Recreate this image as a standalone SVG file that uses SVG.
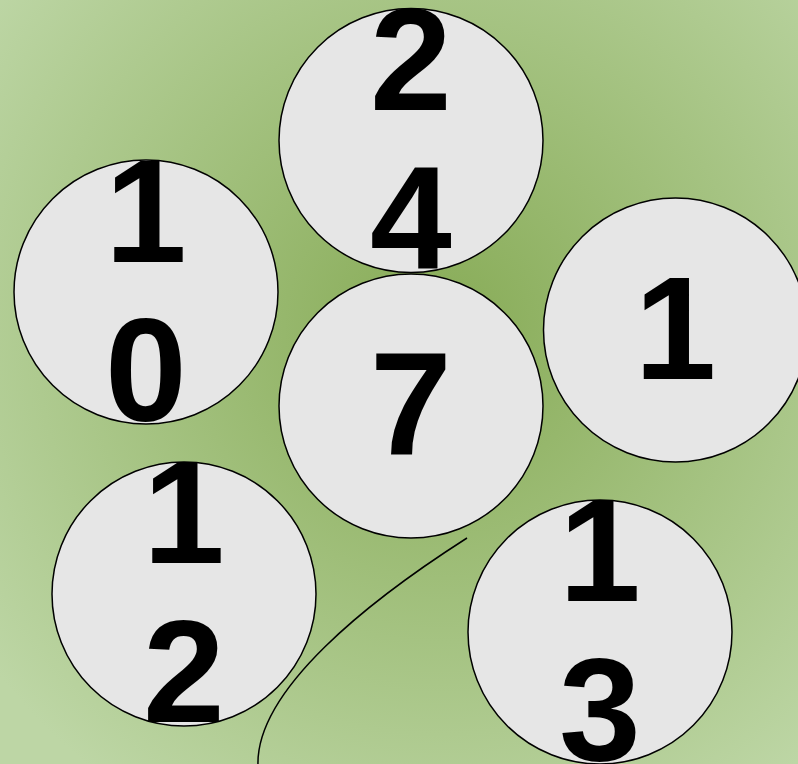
<svg xmlns="http://www.w3.org/2000/svg" width="798" height="764" viewBox="0 0 798 764">
<defs>
<radialGradient id="bg" cx="440" cy="330" r="560" gradientUnits="userSpaceOnUse">
<stop offset="0" stop-color="#87ab56"/>
<stop offset="1" stop-color="#bdd6a5"/>
</radialGradient>
<style>
.node circle{fill:#e6e6e6;stroke:#000;stroke-width:1.5}
.node text{font-family:"Liberation Sans",Arial,sans-serif;font-weight:bold;font-size:147px;fill:#000;text-anchor:middle}
.edge{fill:none;stroke:#000;stroke-width:1.5}
</style>
</defs>
<rect width="798" height="764" fill="url(#bg)"/>
<g id="connectors">
<path class="edge" d="M467,538 C370,600 255,690 258,766"/>
</g>
<g id="node-24" class="node"><circle cx="411" cy="140.5" r="132"/><text x="411" y="110">2</text><text x="411" y="269">4</text></g>
<g id="node-10" class="node"><circle cx="146" cy="292" r="132"/><text x="146" y="261.5">1</text><text x="146" y="420.5">0</text></g>
<g id="node-7" class="node"><circle cx="411" cy="406" r="132"/><text x="411" y="454">7</text></g>
<g id="node-1" class="node"><circle cx="675.5" cy="330" r="132"/><text x="675.5" y="379">1</text></g>
<g id="node-12" class="node"><circle cx="184" cy="594" r="132"/><text x="184" y="563">1</text><text x="184" y="722">2</text></g>
<g id="node-13" class="node"><circle cx="600" cy="632" r="132"/><text x="600" y="601">1</text><text x="600" y="760">3</text></g>
</svg>
